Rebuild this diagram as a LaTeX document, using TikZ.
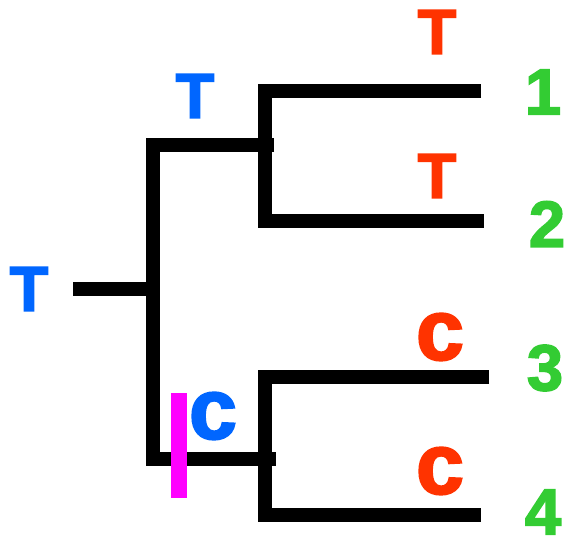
\documentclass[tikz,border=0pt]{standalone}
\usepackage{fontspec}
\setmainfont{Liberation Sans}
\newfontfamily\heavy{Liberation Sans Bold}[FakeBold=2.5]
\usepackage{xcolor}
\usetikzlibrary{positioning}

\definecolor{stateblue}{HTML}{0066FF}
\definecolor{statered}{HTML}{FF3300}
\definecolor{taxongreen}{HTML}{33CC33}
\definecolor{changemark}{HTML}{FF00FF}

\begin{document}
\begin{tikzpicture}[
  x=0.02cm, y=-0.02cm,
  branch/.style={draw=black, line width=8.5pt, line cap=butt, line join=miter},
  anc/.style={font=\fontsize{36}{36}\heavy, text=stateblue, inner sep=0pt},
  ancc/.style={font=\fontsize{49}{49}\heavy, text=stateblue, inner sep=0pt},
  tip/.style={font=\fontsize{36}{36}\heavy, text=statered, inner sep=0pt},
  tipc/.style={font=\fontsize{49}{49}\heavy, text=statered, inner sep=0pt},
  taxon/.style={font=\fontsize{37}{37}\heavy, text=taxongreen, inner sep=0pt}
]
  \useasboundingbox (0,0) rectangle (568,541);

  % Branch points
  \coordinate (root) at (73,289);
  \coordinate (rootv) at (153,289);
  \coordinate (up) at (153,145);
  \coordinate (lo) at (153,459);
  \coordinate (upj) at (274,145);
  \coordinate (loj) at (276,459);
  \coordinate (a) at (265,91);
  \coordinate (b) at (265,221);
  \coordinate (c) at (265,377);
  \coordinate (d) at (265,515);
  \coordinate (t1) at (481,91);
  \coordinate (t2) at (484,221);
  \coordinate (t3) at (489,377);
  \coordinate (t4) at (481,515);

  % Tree
  \draw[branch] (root) -- (rootv);
  \draw[branch] (upj) -- (up) -- (lo) -- (loj);
  \draw[branch] (t1) -- (a) -- (b) -- (t2);
  \draw[branch] (t3) -- (c) -- (d) -- (t4);

  % State change on the lower branch
  \draw[draw=changemark, line width=9pt] (179,393) -- (179,498);

  % Ancestral states
  \node[anc] (sroot) at (29,289) {T};
  \node[anc] (sup) at (195,96) {T};
  \node[ancc] (slo) at (213,416) {c};

  % Tip states
  \node[tip] (s1) at (437,32) {T};
  \node[tip] (s2) at (437,176) {T};
  \node[tipc] (s3) at (440,337) {c};
  \node[tipc] (s4) at (440,471) {c};

  % Taxa
  \node[taxon] (n1) at (543,92) {1};
  \node[taxon] (n2) at (547,224) {2};
  \node[taxon] (n3) at (545,368) {3};
  \node[taxon] (n4) at (543,512) {4};

\end{tikzpicture}
\end{document}
